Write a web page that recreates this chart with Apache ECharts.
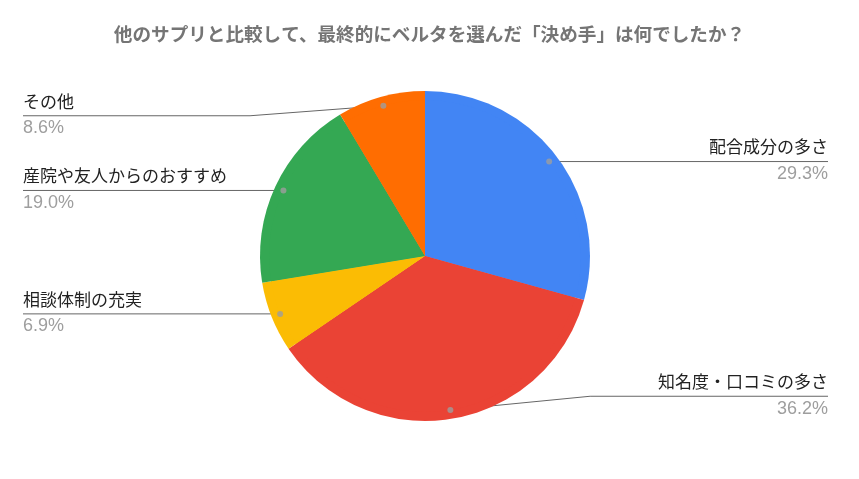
<!DOCTYPE html>
<html>
<head>
<meta charset="utf-8">
<script src="https://cdn.jsdelivr.net/npm/echarts@6/dist/echarts.min.js"></script>
<style>
  html, body { margin: 0; padding: 0; background: #fff; }
  #main { width: 859px; height: 479px; }
</style>
</head>
<body>
<div id="main"></div>
<script>
    /* Chart data */
    var titleText = '他のサプリと比較して、最終的にベルタを選んだ「決め手」は何でしたか？';
    var categories = ['配合成分の多さ', '知名度・口コミの多さ', '相談体制の充実', '産院や友人からのおすすめ', 'その他'];
    var shares = [29.3, 36.2, 6.9, 19.0, 8.6];
    var sliceColors = ['#4285f4', '#ea4335', '#fbbc04', '#34a853', '#ff6d01'];

    var cx = 425, cy = 256, radius = 165, dotRadius = 156;
    var fontStack = 'Roboto, "Noto Sans CJK JP", sans-serif';
    var numFont = '"Liberation Sans", Arial, sans-serif';

    var pieData = categories.map(function (name, i) {
        return { name: name, value: shares[i], itemStyle: { color: sliceColors[i] } };
    });

    // dots sit at the middle angle of each slice
    var total = shares.reduce(function (a, b) { return a + b; }, 0);
    var acc = 0;
    var dotData = shares.map(function (v) {
        var mid = acc + v / 2;
        acc += v;
        return [dotRadius, mid / total * 100];
    });

    var chart = echarts.init(document.getElementById('main'));

    var option = {
        animation: false,
        title: {
            text: titleText,
            left: 'center',
            top: 22,
            textStyle: {
                fontSize: 18.6,
                fontWeight: 'bold',
                color: '#757575',
                fontFamily: fontStack
            }
        },
        polar: { center: [cx, cy], radius: radius },
        angleAxis: { type: 'value', min: 0, max: 100, startAngle: 90, clockwise: true, show: false },
        radiusAxis: { type: 'value', min: 0, max: radius, show: false },
        series: [
            {
                type: 'pie',
                center: [cx, cy],
                radius: radius,
                startAngle: 90,
                label: { show: false },
                labelLine: { show: false },
                silent: true,
                data: pieData
            },
            {
                // transparent copy that carries the labels
                type: 'pie',
                left: 0,
                right: 8,
                center: [cx, cy],
                radius: dotRadius,
                startAngle: 90,
                silent: true,
                itemStyle: { color: 'rgba(0,0,0,0)' },
                label: {
                    show: true,
                    alignTo: 'edge',
                    edgeDistance: 23,
                    formatter: function (p) {
                        return '{n|' + p.name + '}\n{p|' + p.value.toFixed(1) + '%}';
                    },
                    rich: {
                        n: { fontSize: 17, color: '#222222', lineHeight: 25, fontFamily: fontStack },
                        p: { fontSize: 18, color: '#9e9e9e', lineHeight: 25, fontFamily: numFont }
                    }
                },
                labelLine: {
                    show: true,
                    length: 0,
                    length2: 10,
                    lineStyle: { color: '#666666', width: 1 }
                },
                labelLayout: function (params) {
                    var pts = params.labelLinePoints;
                    if (!pts) return {};
                    var start = pts[0];
                    var lineY = Math.min(Math.max(start[1], cy - radius * 0.85), cy + radius * 0.85);
                    var rect = params.labelRect;
                    var isLeft = start[0] < cx;
                    var edgeX = isLeft ? rect.x : rect.x + rect.width;
                    var bendX = start[0];
                    if (Math.abs(lineY - start[1]) > 0.5) {
                        bendX = start[0] + (edgeX - start[0]) * 0.37;
                    }
                    return {
                        y: lineY,
                        labelLinePoints: [[start[0], start[1]], [bendX, lineY], [edgeX, lineY]]
                    };
                },
                data: pieData
            },
            {
                type: 'scatter',
                coordinateSystem: 'polar',
                symbolSize: 6,
                silent: true,
                itemStyle: { color: '#9e9e9e' },
                data: dotData,
                z: 5
            }
        ]
    };

    chart.setOption(option);
</script>
</body>
</html>
